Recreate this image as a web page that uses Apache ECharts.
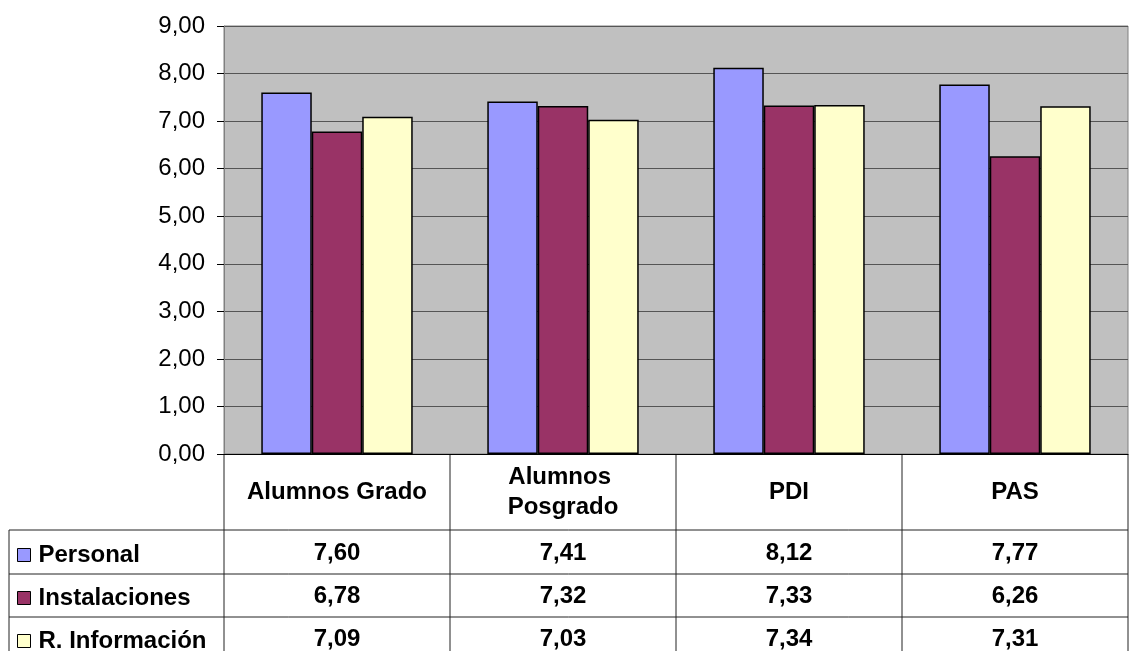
<!DOCTYPE html>
<html>
<head>
<meta charset="utf-8">
<script src="https://cdn.jsdelivr.net/npm/echarts@6/dist/echarts.min.js"></script>
<style>
  html, body { margin: 0; padding: 0; background: #fff; }
  #chart { width: 1138px; height: 651px; }
</style>
</head>
<body>
<div id="chart"></div>
<script>
// data
var categories = ['Alumnos Grado', 'Alumnos Posgrado', 'PDI', 'PAS'];
var seriesNames = ['Personal', 'Instalaciones', 'R. Información'];
var personal = [7.60, 7.41, 8.12, 7.77];
var instalaciones = [6.78, 7.32, 7.33, 6.26];
var rInformacion = [7.09, 7.03, 7.34, 7.31];
var colors = ['#9999ff', '#993366', '#ffffcc'];

var font = "'Liberation Sans', Arial, sans-serif";
var fmt = function (v) { return v.toFixed(2).replace('.', ','); };

// plot box
var L = 224, R = 1128, T = 26, B = 454;
var colW = (R - L) / categories.length;
var rowLines = [530, 574, 617];
var rowCenters = [553, 596, 639];

var chartDom = document.getElementById('chart');
var myChart = echarts.init(chartDom, null, { renderer: 'canvas' });

var rows = [personal, instalaciones, rInformacion];

var xAxes = [{
  type: 'category',
  data: categories,
  axisLine: { lineStyle: { color: '#000', width: 1 } },
  axisTick: { show: false },
  axisLabel: {
    interval: 0, margin: 38, verticalAlign: 'middle',
    width: 210, overflow: 'break', lineHeight: 30,
    fontFamily: font, fontSize: 24, fontWeight: 'bold', color: '#000'
  }
}];
rows.forEach(function (vals, r) {
  xAxes.push({
    type: 'category',
    data: categories,
    position: 'bottom',
    axisLine: { show: false },
    axisTick: { show: false },
    splitLine: { show: false },
    axisLabel: {
      interval: 0, margin: rowCenters[r] - B, verticalAlign: 'middle',
      fontFamily: font, fontSize: 24, fontWeight: 'bold', color: '#000',
      formatter: function (v, i) { return fmt(vals[i]); }
    }
  });
});

// table lines
var g = [];
var lineStyle = { stroke: '#222', lineWidth: 1 };
for (var i = 0; i <= categories.length; i++) {
  var x = L + i * colW;
  g.push({ type: 'line', shape: { x1: x, y1: B, x2: x, y2: 651 }, style: lineStyle, silent: true });
}
rowLines.forEach(function (y) {
  g.push({ type: 'line', shape: { x1: 9, y1: y, x2: R, y2: y }, style: lineStyle, silent: true });
});
g.push({ type: 'line', shape: { x1: 9, y1: rowLines[0], x2: 9, y2: 651 }, style: lineStyle, silent: true });

// one legend per table row
var legends = seriesNames.map(function (name, r) {
  return {
    orient: 'vertical', left: 12, top: rowCenters[r] - 15,
    data: [name],
    icon: 'rect', itemWidth: 13, itemHeight: 13,
    itemStyle: { borderColor: '#000', borderWidth: 1 },
    textStyle: { fontFamily: font, fontSize: 24, fontWeight: 'bold', color: '#000', padding: [0, 0, 0, 3] },
    selectedMode: false
  };
});

var option = {
  animation: false,
  backgroundColor: '#fff',
  grid: {
    left: L, right: 1138 - R, top: T, bottom: 651 - B,
    show: true, backgroundColor: '#c0c0c0', borderColor: '#808080', borderWidth: 1
  },
  legend: legends,
  xAxis: xAxes,
  yAxis: {
    type: 'value', min: 0, max: 9, interval: 1,
    axisLine: { show: true, lineStyle: { color: '#808080' } },
    axisTick: { show: true, length: 7, lineStyle: { color: '#000' } },
    splitLine: { lineStyle: { color: '#555', width: 1 } },
    axisLabel: { margin: 19, fontFamily: font, fontSize: 24, color: '#000', formatter: fmt }
  },
  graphic: g,
  series: rows.map(function (vals, r) {
    return {
      name: seriesNames[r], type: 'bar', data: vals,
      barGap: '0%', barCategoryGap: '33%',
      itemStyle: { color: colors[r], borderColor: '#000', borderWidth: 1.5 }
    };
  })
};
option && myChart.setOption(option);
</script>
</body>
</html>
